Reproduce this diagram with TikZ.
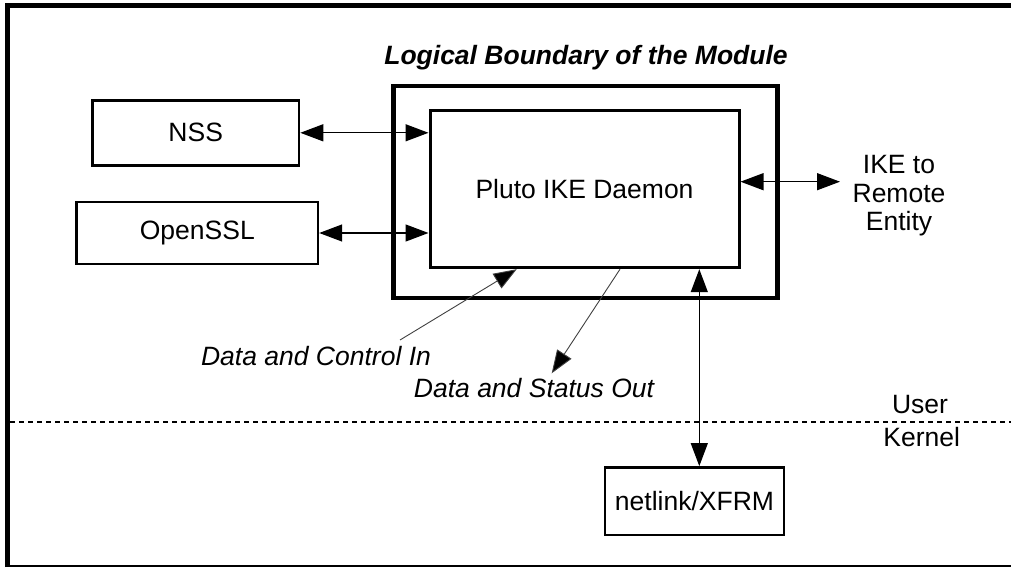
\documentclass[tikz,border=0pt]{standalone}
\usepackage{fontspec}
\setmainfont{Liberation Sans}
\usetikzlibrary{arrows.meta}
\begin{document}
\begin{tikzpicture}[x=1pt,y=-1pt,
  txt/.style={font=\fontsize{26.5}{28.5}\selectfont, inner sep=0pt, align=center},
  itxt/.style={font=\fontsize{26.5}{29}\selectfont\itshape, inner sep=0pt},
  box/.style={draw, line width=2.5pt, inner sep=0pt, font=\fontsize{26.5}{29}\selectfont},
  dbl/.style={line width=1.3pt, {Triangle[length=23pt,width=17pt]}-{Triangle[length=23pt,width=17pt]}},
  sgl/.style={line width=0.9pt, draw=black!75, -{Triangle[length=23pt,width=17pt,fill=black]}}
]
\useasboundingbox (0,0) rectangle (1011,569);
% outer frame
\coordinate (fbl) at (7.5,567);
\coordinate (ftl) at (7.5,5.5);
\coordinate (ftr) at (1016,5.5);
\coordinate (fbl2) at (7.5,566);
\coordinate (fbr) at (1016,566);
\draw[line width=5pt] (fbl) -- (ftl) -- (ftr);
\draw[line width=2pt] (fbl2) -- (fbr);
% module boundary
\node[draw, line width=4.5pt, minimum width=384pt, minimum height=212pt, inner sep=0pt] (module) at (585.5,192) {};
\node[font=\fontsize{26.5}{29}\selectfont\bfseries\itshape, inner sep=0pt] (title) at (586,58) {Logical Boundary of the Module};
% boxes
\node[box, line width=3pt, minimum width=309pt, minimum height=157pt] (pluto) at (584.5,189.2) {Pluto IKE Daemon};
\node[box, minimum width=206.7pt, minimum height=65pt] (nss) at (195.7,132.8) {NSS};
\node[box, minimum width=241.3pt, minimum height=62.3pt] (ossl) at (197.3,233) {OpenSSL};
\node[box, minimum width=179pt, minimum height=67.7pt] (netlink) at (694.5,501.2) {netlink/XFRM};
% texts
\node[txt] (ike) at (899,196) {IKE to\\Remote\\Entity};
\node[txt] (user) at (920,405) {User};
\node[txt] (kernel) at (921.7,436.7) {Kernel};
\node[itxt] (din) at (316,356) {Data and Control In};
\node[itxt] (dout) at (534,388) {Data and Status Out};
% connectors
\draw[dbl] (nss.east) -- (nss.east -| pluto.west);
\draw[dbl] (ossl.east) -- (ossl.east -| pluto.west);
\coordinate (ikeend) at (840,181.7);
\draw[dbl] (ikeend -| pluto.east) -- (ikeend);
\coordinate (vx) at (699.3,0);
\draw[dbl] (vx |- pluto.south) -- (vx |- netlink.north);
\coordinate (dinstart) at (400,340);
\coordinate (dinx) at (516.7,0);
\draw[sgl] (dinstart) -- (dinx |- pluto.south);
\coordinate (doutx) at (620,0);
\coordinate (doutend) at (551.7,373.3);
\draw[sgl] (doutx |- pluto.south) -- (doutend);
% user/kernel boundary
\coordinate (dl) at (10,422.3);
\coordinate (dr) at (1011,422.3);
\draw[line width=1.8pt, dash pattern=on 5pt off 4pt] (dl) -- (dr);
\end{tikzpicture}
\end{document}
